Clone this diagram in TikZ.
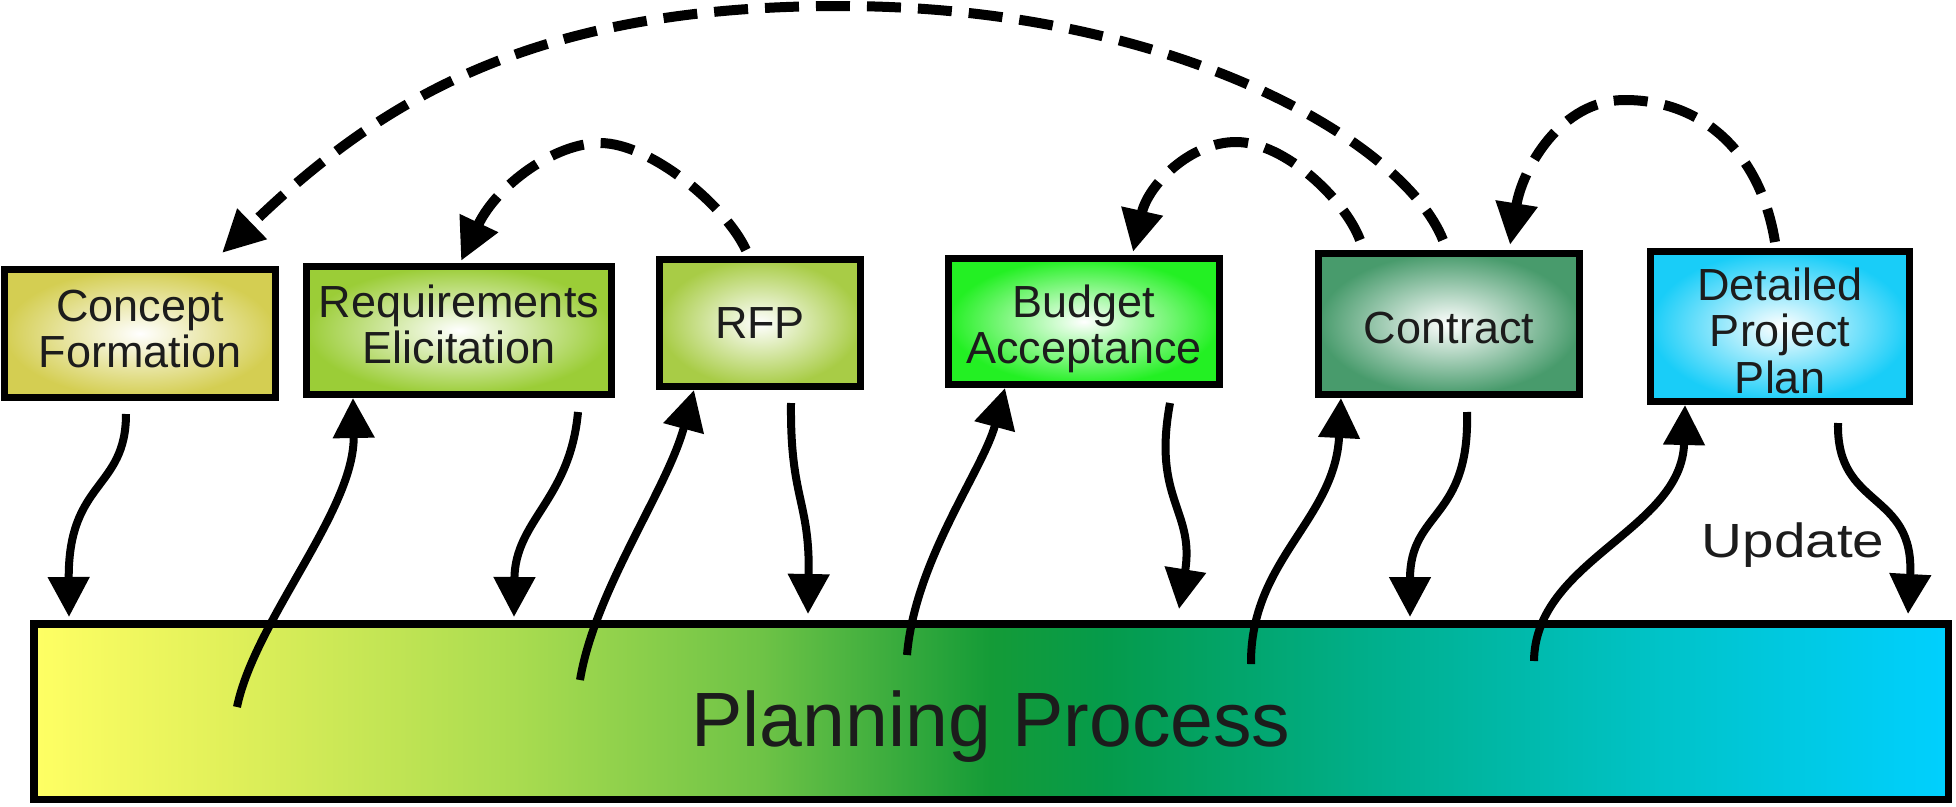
\documentclass[tikz,border=0pt]{standalone}
\usepackage{fontspec}
\setmainfont{Liberation Sans}
\newfontfamily\widefont{Liberation Sans}[FakeStretch=1.18]
\usetikzlibrary{arrows.meta}
\definecolor{txt}{RGB}{28,28,28}
\definecolor{cfc}{RGB}{212,206,82}
\definecolor{rec}{RGB}{155,205,55}
\definecolor{rfc}{RGB}{168,204,70}
\definecolor{bac}{RGB}{35,240,35}
\definecolor{ctc}{RGB}{72,155,108}
\definecolor{dpc}{RGB}{25,205,248}
\definecolor{pp0}{RGB}{255,255,100}
\definecolor{pp1}{RGB}{225,240,90}
\definecolor{pp2}{RGB}{170,220,80}
\definecolor{pp3}{RGB}{110,195,70}
\definecolor{pp4}{RGB}{20,155,55}
\definecolor{pp5}{RGB}{5,155,75}
\definecolor{pp6}{RGB}{0,175,140}
\definecolor{pp7}{RGB}{0,195,200}
\definecolor{pp8}{RGB}{0,208,255}
\pgfdeclarehorizontalshading{planshade}{100bp}{color(0bp)=(pp0); color(25bp)=(pp0); color(30bp)=(pp1); color(37.5bp)=(pp2); color(44bp)=(pp3); color(50bp)=(pp4); color(53bp)=(pp5); color(60bp)=(pp6); color(67.5bp)=(pp7); color(75bp)=(pp8); color(100bp)=(pp8)}
% text block whose first baseline sits #1 above the node centre
\newcommand{\btext}[2]{\raisebox{#1}[0pt][0pt]{\begin{tabular}[t]{@{}c@{}}#2\end{tabular}}}
\begin{document}
\begin{tikzpicture}[x=1pt,y=-1pt,
  box/.style={draw=black, line width=7pt, inner sep=0pt, text=txt, font=\fontsize{45}{46}\selectfont},
  flow/.style={line width=8pt, -{Triangle[length=40pt,width=40pt]}},
  back/.style={line width=10pt, dash pattern=on 34pt off 17pt, -{Triangle[length=42pt,width=40pt]}}]
\useasboundingbox (0,0) rectangle (1956,806);
% boxes
\node[box, inner color=white, outer color=cfc, minimum width=271pt, minimum height=128pt] (cf) at (140,333.5) {\btext{12pt}{Concept\\Formation}};
\node[box, inner color=white, outer color=rec, minimum width=305pt, minimum height=128pt] (re) at (459,330.5) {\btext{13.5pt}{Requirements\\Elicitation}};
\node[box, inner color=white, outer color=rfc, minimum width=201pt, minimum height=127pt] (rfp) at (760,323) {\btext{-15pt}{RFP}};
\node[box, inner color=white, outer color=bac, minimum width=271pt, minimum height=126pt] (ba) at (1084,321.5) {\btext{4.5pt}{Budget\\Acceptance}};
\node[box, inner color=white, outer color=ctc, minimum width=261pt, minimum height=141pt] (ct) at (1449,324) {\btext{-19pt}{Contract}};
\node[box, inner color=white, outer color=dpc, minimum width=259pt, minimum height=150pt, font=\fontsize{45}{46.5}\selectfont] (dp) at (1780,326.5) {\btext{26.5pt}{Detailed\\Project\\Plan}};
\node[draw=black, line width=7.5pt, shading=planshade, inner sep=0pt, minimum width=1914.5pt, minimum height=175.5pt, text=txt, font=\fontsize{77}{80}\selectfont] (pp) at (991,711.5) {\raisebox{-35pt}[0pt][0pt]{Planning Process}};
\node[text=txt, font=\widefont\fontsize{48}{52}\selectfont, inner sep=0pt] (upd) at (1793,545) {Update};
% solid connectors
\draw[flow] ([xshift=-14pt,yshift=-13pt]cf.south) .. controls (126,490) and (68,480) .. ([xshift=39pt,yshift=3pt]pp.north west);
\draw[flow] ([xshift=207pt,yshift=-87pt]pp.north west) .. controls (255,620) and (355,510) .. ([xshift=-106pt]re.south);
\draw[flow] ([xshift=119pt,yshift=-14pt]re.south) .. controls (570,500) and (515,520) .. ([xshift=484pt,yshift=3pt]pp.north west);
\draw[flow] ([xshift=550pt,yshift=-60pt]pp.north west) .. controls (595,590) and (667,490) .. ([xshift=-66pt]rfp.south);
\draw[flow] ([xshift=31pt,yshift=-13pt]rfp.south) .. controls (790,500) and (810,500) .. ([xshift=778pt,yshift=6pt]pp.north west);
\draw[flow] ([xshift=877pt,yshift=-35pt]pp.north west) .. controls (915,560) and (983,470) .. ([xshift=-79pt]ba.south);
\draw[flow] ([xshift=86pt,yshift=-15pt]ba.south) .. controls (1152,500) and (1195,510) .. ([xshift=1149pt,yshift=11pt]pp.north west);
\draw[flow] ([xshift=1221pt,yshift=-44pt]pp.north west) .. controls (1250,560) and (1335,520) .. ([xshift=-108pt]ct.south);
\draw[flow] ([xshift=18pt,yshift=-14pt]ct.south) .. controls (1470,520) and (1410,510) .. ([xshift=1380pt,yshift=3pt]pp.north west);
\draw[flow] ([xshift=1504pt,yshift=-41pt]pp.north west) .. controls (1535,560) and (1682,530) .. ([xshift=-95pt]dp.south);
\draw[flow] ([xshift=58pt,yshift=-18pt]dp.south) .. controls (1836,510) and (1915,490) .. ([xshift=1878pt,yshift=6pt]pp.north west);
% dashed connectors
\draw[back] ([xshift=-6pt,yshift=10pt]ct.north) .. controls (1403,140) and (1170,6) .. (840,6) .. controls (540,6) and (385,95) .. ([xshift=82pt,yshift=13pt]cf.north);
\draw[back] ([xshift=-14pt,yshift=6pt]rfp.north) .. controls (725,205) and (650,143) .. (600,143) .. controls (555,143) and (497,185) .. ([xshift=2pt,yshift=2pt]re.north);
\draw[back] ([xshift=-89pt,yshift=10pt]ct.north) .. controls (1345,200) and (1285,142) .. (1236,142) .. controls (1190,142) and (1148,185) .. ([xshift=49pt,yshift=3pt]ba.north);
\draw[back] ([xshift=-5pt,yshift=6pt]dp.north) .. controls (1760,150) and (1700,100) .. (1625,100) .. controls (1560,100) and (1522,170) .. ([xshift=61pt,yshift=5pt]ct.north);
\end{tikzpicture}
\end{document}
